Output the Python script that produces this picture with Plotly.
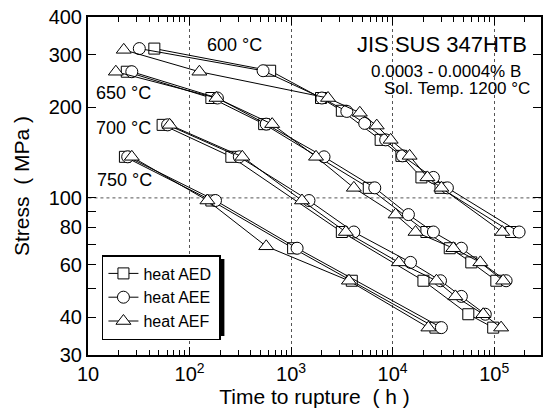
import plotly.graph_objects as go

# ---------------- data (time to rupture [h], stress [MPa]) ----------------
heats = ["heat AED", "heat AEE", "heat AEF"]
symbols = ["square", "circle", "triangle-up"]
msizes = [11, 12, 13]

t600_AED = [45, 622, 1970, 3160, 7620, 12200, 19200, 29600, 147000]
s600_AED = [314, 265, 215, 195, 156, 138, 117, 108, 77]
t600_AEE = [32, 530, 2010, 3540, 5310, 8540, 12500, 25200, 34600, 176000]
s600_AEE = [314, 265, 215, 194, 177, 156, 138, 117, 108, 77]
t600_AEF = [22.5, 125, 2310, 4750, 6970, 9560, 14700, 22000, 30200, 120000]
s600_AEF = [311, 263, 215, 192, 174, 156, 138, 117, 108, 77]

t650_AED = [24.1, 164, 543, 5820, 21500, 36500, 59500, 105000]
s650_AED = [263, 215, 176, 108, 77, 68, 61, 53]
t650_AEE = [27.0, 188, 569, 2110, 6670, 14300, 25200, 47500, 131000]
s650_AEE = [263, 215, 176, 137, 108, 88, 77, 68, 53]
t650_AEF = [18.8, 184, 651, 1760, 4150, 10700, 16800, 39600, 73000, 122500]
s650_AEF = [263, 215, 176, 137, 108, 88, 77, 68, 61, 53]

t700_AED = [54.3, 258, 3160, 20100, 55600, 97800]
s700_AED = [175, 137, 77, 53, 41, 37]
t700_AEE = [60.8, 309, 1500, 4150, 15000, 29600, 47500, 81700]
s700_AEE = [175, 137, 98, 77, 61, 53, 47, 41]
t700_AEF = [63.7, 331, 1280, 3460, 11500, 27000, 41500, 78000, 117000]
s700_AEF = [175, 137, 98, 77, 61, 53, 47, 41, 37]

t750_AED = [23.1, 164, 1047, 3960, 26400]
s750_AED = [137, 98, 68, 53, 37]
t750_AEE = [24.6, 180, 1146, 30200]
s750_AEE = [137, 98, 68, 37]
t750_AEF = [27.0, 150, 569, 3710, 22500]
s750_AEF = [137, 98, 69, 53, 37]

series = {
    "heat AED": [(t600_AED, s600_AED), (t650_AED, s650_AED), (t700_AED, s700_AED), (t750_AED, s750_AED)],
    "heat AEE": [(t600_AEE, s600_AEE), (t650_AEE, s650_AEE), (t700_AEE, s700_AEE), (t750_AEE, s750_AEE)],
    "heat AEF": [(t600_AEF, s600_AEF), (t650_AEF, s650_AEF), (t700_AEF, s700_AEF), (t750_AEF, s750_AEF)],
}

x_tickvals = [10, 100, 1000, 10000, 100000]
x_ticktext = ["10", "10<sup>2</sup>", "10<sup>3</sup>", "10<sup>4</sup>", "10<sup>5</sup>"]
x_minor = [m * 10 ** e for e in range(1, 6) for m in range(2, 10)]
y_tickvals = [30, 40, 50, 60, 70, 80, 90, 100, 200, 300, 400]
y_ticktext = ["30", "40", "", "60", "", "80", "", "100", "200", "300", "400"]
hgrid_y = 100

FONT = "Liberation Sans, Arial, sans-serif"

fig = go.Figure()

# horizontal dotted reference line at 100 MPa
fig.add_trace(go.Scatter(x=[1, 1e7], y=[hgrid_y, hgrid_y], mode="lines",
                         line=dict(color="#555", width=1, dash="dot"),
                         showlegend=False, hoverinfo="skip"))

for heat, sym, ms in zip(heats, symbols, msizes):
    for i, (t, s) in enumerate(series[heat]):
        fig.add_trace(go.Scatter(
            x=t, y=s, mode="lines+markers", name=heat + "\u2009", legendgroup=heat,
            showlegend=(i == 0),
            line=dict(color="black", width=1),
            marker=dict(symbol=sym, size=ms, color="white",
                        line=dict(color="black", width=1)),
        ))

fig.update_xaxes(
    type="log", range=[1, 5.461],
    tickvals=x_tickvals, ticktext=x_ticktext,
    ticks="inside", ticklen=8, tickwidth=1, tickcolor="black",
    minor=dict(tickvals=x_minor, ticks="inside", ticklen=5, tickcolor="black", showgrid=False),
    showgrid=True, griddash="dot", gridcolor="#555", gridwidth=1,
    showline=True, linecolor="black", linewidth=2, mirror="ticks",
    zeroline=False,
    tickfont=dict(family=FONT, size=20, color="black"),
    title=dict(text="Time to rupture\u00a0\u00a0( h )", font=dict(family=FONT, size=21, color="black"), standoff=5),
)
fig.update_yaxes(
    type="log", range=[1.47712, 2.60206],
    tickvals=y_tickvals, ticktext=y_ticktext,
    ticks="inside", ticklen=8, tickwidth=1, tickcolor="black",
    showgrid=False,
    showline=True, linecolor="black", linewidth=2, mirror="ticks",
    zeroline=False,
    tickfont=dict(family=FONT, size=20, color="black"),
    title=dict(text="Stress\u00a0\u00a0( MPa )", font=dict(family=FONT, size=21, color="black"), standoff=13),
)

def px2paper(px, py):
    return (px - 88) / 455.0, (355 - py) / 338.0

annots = [
    ("600 \u00b0C", 235, 45, "center", 18),
    ("650 \u00b0C", 124, 93, "center", 18),
    ("700 \u00b0C", 124, 128, "center", 18),
    ("750 \u00b0C", 125, 180, "center", 18),
    ("JIS SUS 347HTB", 531, 45, "right", 22),
    ("0.0003 - 0.0004% B", 525, 71, "right", 17),
    ("Sol. Temp. 1200 \u00b0C", 534, 89, "right", 17),
]
for text, px, py, anchor, fs in annots:
    ax_, ay_ = px2paper(px, py)
    fig.add_annotation(text=text, x=ax_, y=ay_, xref="paper", yref="paper",
                       xanchor=anchor, yanchor="middle", showarrow=False,
                       font=dict(family=FONT, size=fs, color="black"))

# legend shadow
sx0, sy0 = px2paper(106, 336)
sx1, sy1 = px2paper(225, 259)
fig.add_shape(type="rect", xref="paper", yref="paper", x0=sx0, x1=sx1, y0=sy0, y1=sy1,
              fillcolor="black", line=dict(width=0), layer="above")

lx, ly = px2paper(102, 255)
fig.update_layout(
    width=549, height=419,
    margin=dict(l=88, r=6, t=17, b=64),
    paper_bgcolor="white", plot_bgcolor="white",
    font=dict(family=FONT, color="black"),
    legend=dict(x=lx, y=ly, xanchor="left", yanchor="top",
                bgcolor="white", bordercolor="black", borderwidth=1.5,
                font=dict(family=FONT, size=16, color="black"),
                tracegroupgap=0, itemwidth=30),
    showlegend=True,
)

fig.write_html("out.html")
